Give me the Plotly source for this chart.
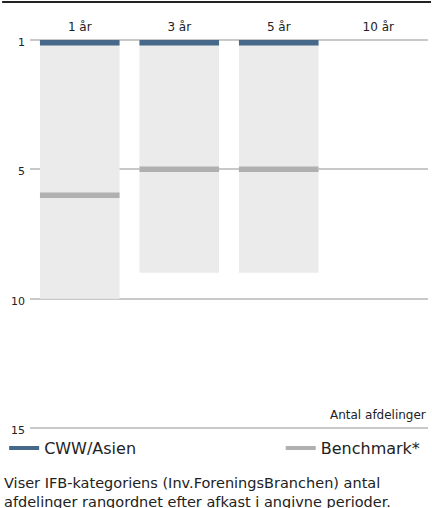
import numpy as np
import plotly.graph_objects as go

# Periods and rankings within the IFB category
periods = ["1 år", "3 år", "5 år", "10 år"]
fund_count = [10, 9, 9, None]        # number of funds in the category per period
cww_rank = [1, 1, 1, None]           # CWW/Asien rank
bench_rank = [6, 5, 5, None]         # Benchmark* rank

# Rank axis: ticks are evenly spaced, values interpolate between them
rank_ticks = [1, 5, 10, 15]
tick_pos = [0, 1, 2, 3]


def to_axis(values):
    return [None if v is None else float(np.interp(v, rank_ticks, tick_pos)) for v in values]


W, H = 432, 508
TOP_PX, BOTTOM_PX = 40, 428          # pixel rows of the first and last gridline
PAD = 3                              # keep edge gridlines inside the plot area
M_L, M_R = 28, 4
M_T, M_B = TOP_PX - PAD, H - BOTTOM_PX - PAD
span = tick_pos[-1] - tick_pos[0]
px_per_unit = (BOTTOM_PX - TOP_PX) / span
eps = PAD / px_per_unit
mark_h = 5.5 / px_per_unit           # marker thickness in axis units

BLUE = "#46698a"
GREY_MARK = "#b0b0b0"
GREY_BAR = "#ebebeb"
GRID = "#c9c9c9"
TEXT = "#222222"
FONT = "DejaVu Sans"


def marker_bases(values):
    pos = to_axis(values)
    return [None if p is None else max(p - mark_h / 2, 0.0) for p in pos]


fig = go.Figure()

# Category range bars
fig.add_trace(go.Bar(
    x=periods, y=to_axis(fund_count), base=0,
    marker=dict(color=GREY_BAR, line=dict(width=0)),
    showlegend=False, hoverinfo="skip",
))

# Rank markers
for ranks, color in [(bench_rank, GREY_MARK), (cww_rank, BLUE)]:
    fig.add_trace(go.Bar(
        x=periods, y=[None if r is None else mark_h for r in ranks],
        base=marker_bases(ranks),
        marker=dict(color=color, line=dict(width=0)),
        showlegend=False, hoverinfo="skip",
    ))

# Legend entries (one legend box each, left and right)
fig.add_trace(go.Scatter(x=[None], y=[None], mode="lines", name="CWW/Asien",
                         line=dict(color=BLUE, width=4), legend="legend"))
fig.add_trace(go.Scatter(x=[None], y=[None], mode="lines", name="Benchmark*",
                         line=dict(color=GREY_MARK, width=4), legend="legend2"))

plot_w = W - M_L - M_R
plot_h = H - M_T - M_B


def px_x(x):
    return (x - M_L) / plot_w


def px_y(y):
    return (H - M_B - y) / plot_h


legend_style = dict(
    orientation="h", yanchor="middle", y=px_y(448),
    font=dict(size=16, color=TEXT, family=FONT),
    bgcolor="rgba(0,0,0,0)", borderwidth=0,
)

fig.update_layout(
    width=W, height=H,
    margin=dict(l=M_L, r=M_R, t=M_T, b=M_B, pad=0),
    paper_bgcolor="white", plot_bgcolor="white",
    barmode="overlay", bargap=0.2,
    font=dict(family=FONT, color=TEXT, size=12),
    xaxis=dict(
        type="category", categoryorder="array", categoryarray=periods,
        side="top", showgrid=False, showline=False, zeroline=False,
        ticks="", tickfont=dict(size=12, color=TEXT), fixedrange=True,
        ticklabelstandoff=3,
    ),
    yaxis=dict(
        range=[tick_pos[-1] + eps, tick_pos[0] - eps],
        tickvals=tick_pos, ticktext=[str(t) for t in rank_ticks],
        showgrid=True, gridcolor=GRID, gridwidth=1.5,
        zeroline=False, showline=False, ticks="",
        tickfont=dict(size=11, color=TEXT), fixedrange=True,
        ticklabelstandoff=4, ticklabelshift=-2,
    ),
    legend=dict(legend_style, x=px_x(2), xanchor="left"),
    legend2=dict(legend_style, x=px_x(280), xanchor="left"),
    shapes=[dict(
        type="line", xref="paper", yref="paper",
        x0=px_x(0), x1=px_x(431), y0=px_y(2), y1=px_y(2),
        line=dict(color="#222222", width=2),
    )],
    annotations=[
        dict(text="Antal afdelinger", xref="paper", yref="paper",
             x=px_x(428), y=px_y(415), xanchor="right", yanchor="middle",
             showarrow=False, font=dict(size=12, color=TEXT)),
        dict(text="Viser IFB-kategoriens (Inv.ForeningsBranchen) antal<br>"
                  "afdelinger rangordnet efter afkast i angivne perioder.",
             xref="paper", yref="paper", x=px_x(0), y=px_y(473),
             xanchor="left", yanchor="top", align="left",
             showarrow=False, font=dict(size=14.5, color=TEXT)),
    ],
)

fig.write_html("out.html", config={"displayModeBar": False})
